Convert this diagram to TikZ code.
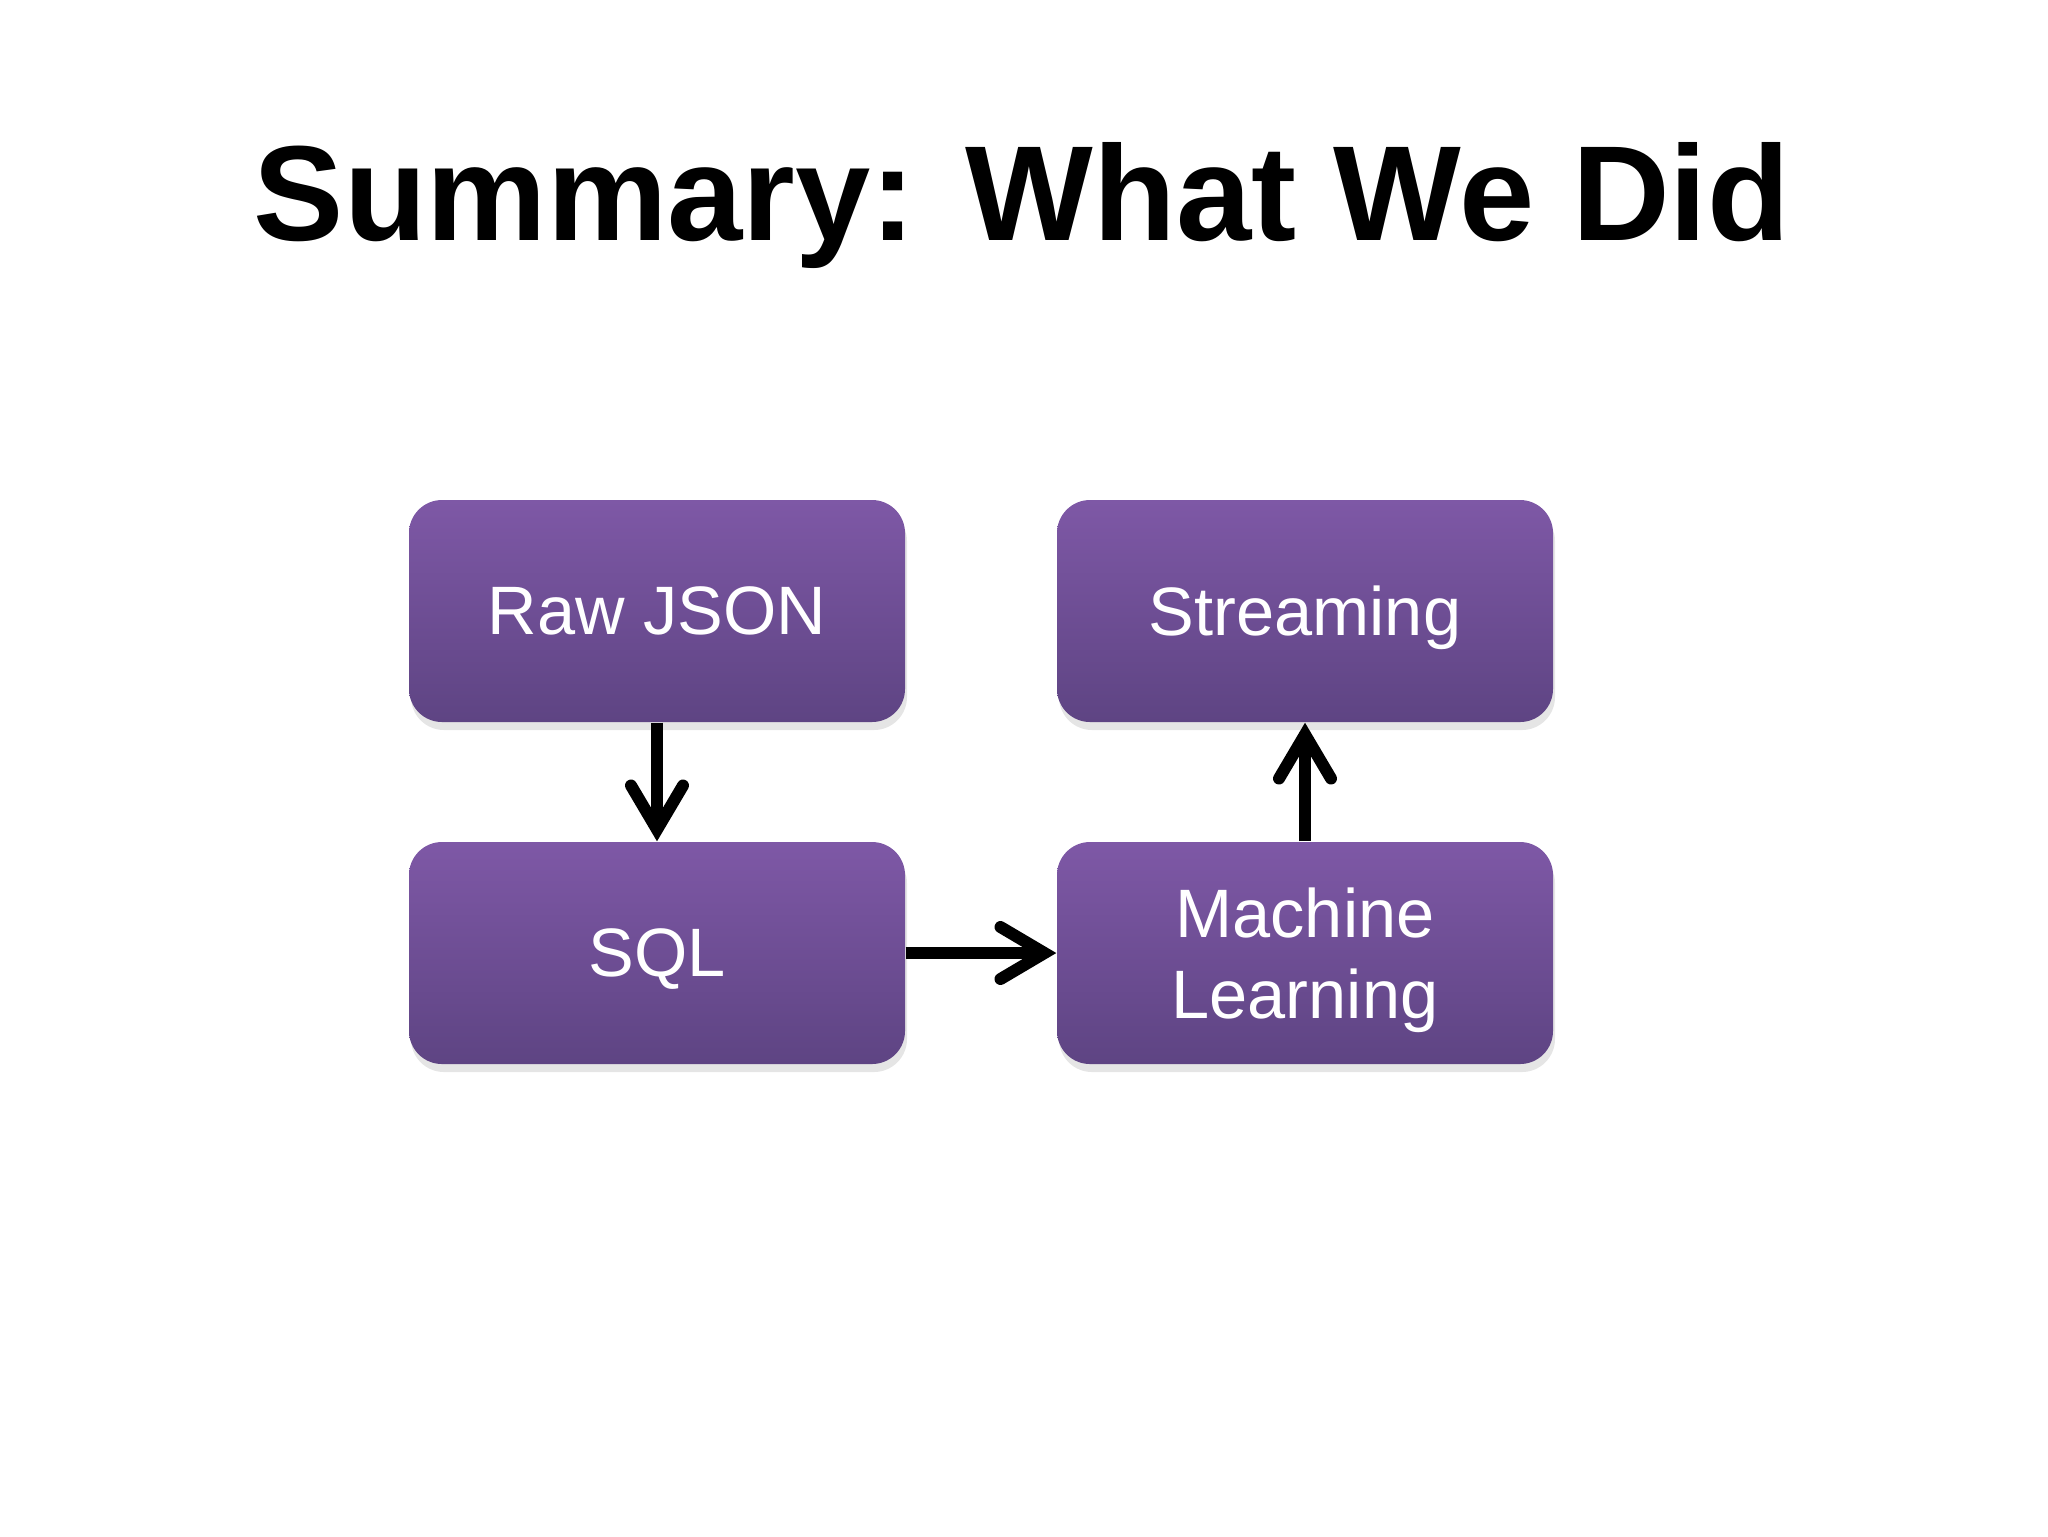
\documentclass[tikz,border=0pt]{standalone}
\usepackage{fontspec}
\setmainfont{Liberation Sans}
\usetikzlibrary{arrows.meta,shadows}
\definecolor{boxtop}{HTML}{7E58A6}
\definecolor{boxbot}{HTML}{5E4483}
\tikzset{
  stepbox/.style={rounded corners=3.3mm, minimum width=49.6mm, minimum height=22.2mm,
    top color=boxtop, bottom color=boxbot, draw=none, text=white, align=center,
    font=\fontsize{19.5}{23}\selectfont, inner sep=0pt, text depth=0pt,
    drop shadow={shadow xshift=0.2mm, shadow yshift=-0.8mm, opacity=0.1, fill=black}},
  flow/.style={line width=1.2mm, -{Straight Barb[length=4.4mm, width=5.2mm, line cap=round, line join=miter]}}
}
\begin{document}
\begin{tikzpicture}[x=0.1mm, y=-0.1mm]
\useasboundingbox (0,0) rectangle (2048,1536);
\node[font=\fontsize{38.5}{40}\selectfont\bfseries, anchor=base] (title) at (1022,240) {Summary: What We Did};
\node[stepbox] (raw) at (657,611) {Raw JSON};
\node[stepbox] (sql) at (657,953) {SQL};
\node[stepbox] (stream) at (1305,611) {Streaming};
\node[stepbox] (ml) at (1305,953) {Machine\\Learning};
\draw[flow] (raw.south) -- (sql.north);
\draw[flow] (sql.east) -- (ml.west);
\draw[flow] (ml.north) -- (stream.south);
\end{tikzpicture}
\end{document}
